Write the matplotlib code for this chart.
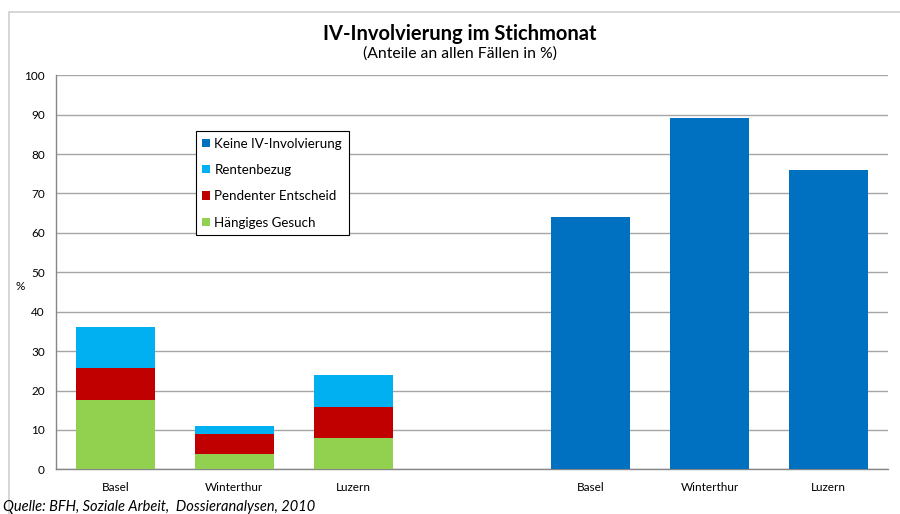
import numpy as np
import matplotlib.pyplot as plt
from matplotlib.patches import Rectangle

plt.rcParams['font.family'] = ['Lato', 'DejaVu Sans']

# Daten (Anteile in %)
orte = ["Basel", "Winterthur", "Luzern"]
haengig = [17.6, 4.0, 8.0]
pendent = [8.1, 5.0, 7.9]
rente = [10.4, 2.0, 8.0]
keine_iv = [64.0, 89.1, 75.9]

col_keine = "#0070C0"
col_rente = "#00B0F0"
col_pend = "#C00000"
col_haeng = "#92D050"

fig = plt.figure(figsize=(9, 5.14), dpi=100)
ax = fig.add_axes([56 / 900, 44.7 / 514, 832 / 900, 394 / 514])

# Rahmen um die ganze Grafik
fig.patches.append(Rectangle((9 / 900, -0.05), 1.0, 1 - 12 / 514 + 0.05,
                             transform=fig.transFigure, fill=False,
                             edgecolor="#d0d0d0", linewidth=1.2, zorder=0))

x_links = np.arange(3)
x_rechts = np.arange(3) + 4
breite = 0.665

h = np.array(haengig)
p = np.array(pendent)
r = np.array(rente)
ax.bar(x_links, h, breite, color=col_haeng, label="Hängiges Gesuch", zorder=3)
ax.bar(x_links, p, breite, bottom=h, color=col_pend, label="Pendenter Entscheid", zorder=3)
ax.bar(x_links, r, breite, bottom=h + p, color=col_rente, label="Rentenbezug", zorder=3)
ax.bar(x_rechts, keine_iv, breite, color=col_keine, label="Keine IV-Involvierung", zorder=3)

ax.set_xlim(-0.5, 6.5)
ax.set_ylim(0, 100)
ax.set_yticks(range(0, 101, 10))
ax.set_xticks(list(x_links) + list(x_rechts))
ax.set_xticklabels(orte + orte)
ax.tick_params(axis="both", length=0, labelsize=8.5, colors="#000000")
ax.tick_params(axis="y", pad=8)
ax.tick_params(axis="x", pad=9)

ax.grid(axis="y", color="#a6a6a6", linewidth=1.0, zorder=0)
for s in ["top", "right"]:
    ax.spines[s].set_visible(False)
for s in ["left", "bottom"]:
    ax.spines[s].set_color("#868686")
    ax.spines[s].set_linewidth(1.0)

ax.set_ylabel("%", rotation=0, fontsize=8.5)
ax.yaxis.set_label_coords(-0.043, 0.45)

# Legende
hdl, lab = ax.get_legend_handles_labels()
reihenfolge = [3, 2, 1, 0]
leg = ax.legend([hdl[i] for i in reihenfolge], [lab[i] for i in reihenfolge],
                loc="upper left", bbox_to_anchor=(0.168, 0.859),
                fontsize=9.6, frameon=True, fancybox=False, framealpha=1,
                edgecolor="#000000", handlelength=0.6, handleheight=0.6,
                handletextpad=0.3, labelspacing=1.08, borderpad=0.5,
                borderaxespad=0)
leg.get_frame().set_linewidth(0.8)

fig.text(0.511, 1 - 34 / 514, "IV-Involvierung im Stichmonat", ha="center",
         va="center", fontsize=14.5, fontweight="bold")
fig.text(0.511, 1 - 54 / 514, "(Anteile an allen Fällen in %)", ha="center",
         va="center", fontsize=11.3)
fig.text(3 / 900, 1 - 507 / 514, "Quelle: BFH, Soziale Arbeit,  Dossieranalysen, 2010",
         ha="left", va="center", fontsize=10.5, style="italic")

fig.savefig("out.png", dpi=100)
